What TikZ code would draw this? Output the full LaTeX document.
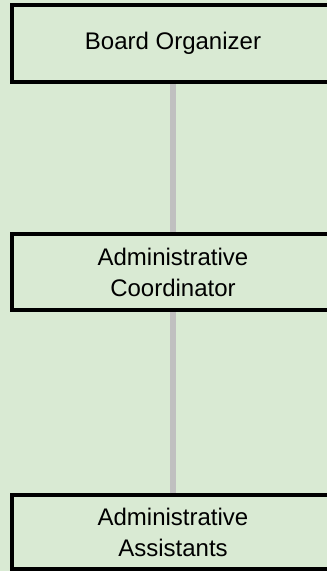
\documentclass[tikz,border=0pt]{standalone}
\usepackage{fontspec}
\setmainfont{Liberation Sans}
\definecolor{bggreen}{HTML}{D9EAD3}
\definecolor{linkgray}{HTML}{C0C0C0}
\begin{document}
\begin{tikzpicture}
    [x=1pt,y=-1pt,
     box/.style={shape=rectangle,draw=black,line width=4pt,fill=bggreen,
       minimum width=322pt,align=center,inner sep=0pt,
       font=\fontsize{24}{31}\selectfont},
     link/.style={draw=linkgray,line width=6pt}]
    \clip (0,0) rectangle (327,571);
    \fill [bggreen] (0,0) rectangle (327,571);
    \node [box,minimum height=77pt] (board) at (173, 43.5) {Board Organizer};
    \node [box,minimum height=76pt] (coord) at (173, 272) {Administrative\\Coordinator}
      edge [link] (board);
    \node [box,minimum height=74pt] (assist) at (173, 532) {Administrative\\Assistants}
      edge [link] (coord);
  \end{tikzpicture}
\end{document}
